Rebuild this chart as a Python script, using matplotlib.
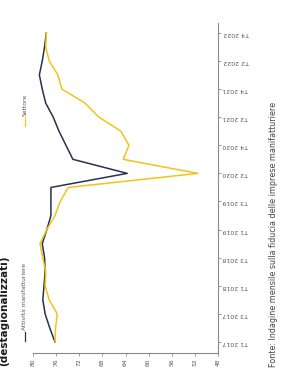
import numpy as np
import matplotlib.pyplot as plt
from matplotlib.lines import Line2D

# ── Data ──────────────────────────────────────────────────────────────────────
periods = ['T1 2017', 'T3 2017', 'T1 2018', 'T3 2018', 'T1 2019', 'T3 2019',
           'T2 2020', 'T4 2020', 'T2 2021', 'T4 2021', 'T2 2022', 'T4 2022']
steps = np.arange(23) * 0.5          # two observations per labelled period

manifattura = [76.2, 77.1, 77.9, 78.3, 78.1, 77.9, 78.0, 78.4, 77.6, 76.9,
               76.9, 76.9, 63.7, 73.1, 74.3, 75.5, 76.5, 77.8, 78.4, 78.9,
               78.4, 78.0, 77.7]
settore = [76.2, 76.1, 75.8, 77.2, 77.9, 77.8, 78.3, 78.8, 77.6, 76.2,
           75.3, 73.9, 51.5, 64.4, 63.4, 64.8, 68.6, 71.0, 75.0, 75.7,
           77.2, 77.8, 77.7]
value_ticks = [80, 76, 72, 68, 64, 60, 56, 52, 48]

dark = '#26324f'
gold = '#f2c31a'
grey = '#8a8a8a'

# ── Figure: the whole chart is turned 90° counter-clockwise ──────────────────
W, H = 287, 372
fig = plt.figure(figsize=(W / 100, H / 100), dpi=100)
ax = fig.add_axes([33 / W, 1 - 353 / H, (218 - 33) / W, (353 - 23) / H])

ax.plot(manifattura, steps, color=dark, lw=1.1)
ax.plot(settore, steps, color=gold, lw=1.1)

ax.set_xlim(80, 48)
ax.set_ylim(-0.39, 11.35)
ax.set_xticks(value_ticks)
ax.set_xticklabels([str(v) for v in value_ticks])
ax.set_yticks(np.arange(len(periods)))
ax.set_yticklabels(periods)

for side in ('left', 'top'):
    ax.spines[side].set_visible(False)
for side in ('right', 'bottom'):
    ax.spines[side].set_color(grey)
    ax.spines[side].set_linewidth(0.8)

ax.yaxis.tick_right()
ax.tick_params(axis='y', labelrotation=180, labelsize=4.5, length=2.5,
               width=0.6, color=grey, labelcolor='#555555', pad=1)
ax.tick_params(axis='x', labelrotation=90, labelsize=4.3, length=2.5,
               width=0.6, color=grey, labelcolor='#555555', pad=1.5)

# legend drawn by hand, rotated with the chart
for (y0, y1, ty, txt, col) in [(341, 332, 330, '— Attività manifatturiere', dark),
                               (126, 118, 116, 'Settore', gold)]:
    fig.add_artist(Line2D([25 / W, 25 / W], [1 - y0 / H, 1 - y1 / H],
                          color=col, lw=0.9, transform=fig.transFigure))
    if txt.startswith('—'):
        txt = txt[2:]
    fig.text(25 / W, 1 - ty / H, txt, rotation=90, ha='center', va='bottom',
             fontsize=4.3, color='#555555')

# title (cut by the left edge) and source
fig.text(4 / W, 1 - 255 / H, '(destagionalizzati)', rotation=90, ha='center',
         va='top', fontsize=7.5, fontweight='bold', color='#1a1a1a')
fig.text(273 / W, 1 - 367 / H,
         'Fonte: Indagine mensile sulla fiducia delle imprese manifatturiere',
         rotation=90, ha='center', va='bottom', fontsize=5.8, color='#444444')

fig.savefig('out.png', dpi=100)
